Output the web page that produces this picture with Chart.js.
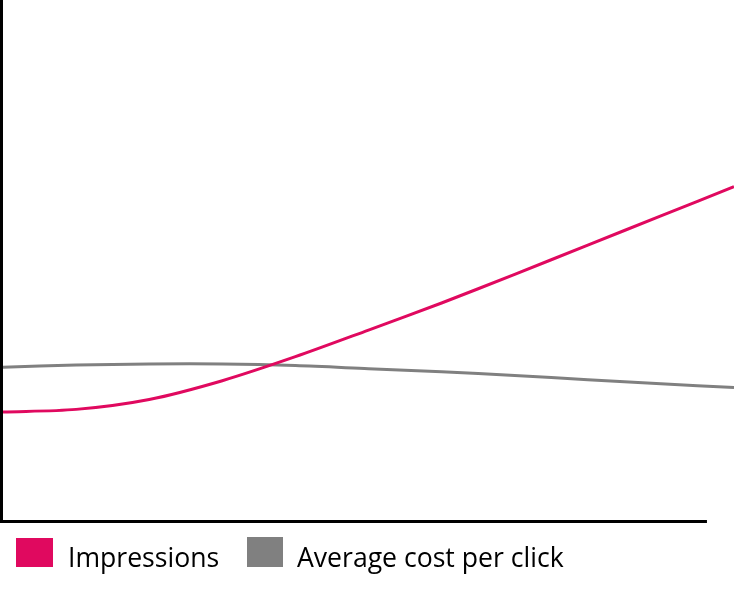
<!DOCTYPE html>
<html>
<head>
<meta charset="utf-8">
<script src="https://cdn.jsdelivr.net/npm/chart.js@4/dist/chart.umd.min.js"></script>
<style>
  html, body { margin: 0; padding: 0; background: #fff; }
  #wrap { position: relative; width: 734px; height: 597px; }
  #legend { position: absolute; left: 0; top: 0; width: 734px; height: 597px; pointer-events: none;
            font-family: 'Open Sans', sans-serif; font-size: 26.6px; color: #000; }
  .lg-box { position: absolute; }
  .lg-text { position: absolute; line-height: 30px; white-space: nowrap; }
</style>
</head>
<body>
<div id="wrap">
  <canvas id="chart"></canvas>
  <div id="legend"></div>
</div>
<script>
'use strict';

// ── Data (arbitrary units 0..100) ──────────────────────────────────────────
const xLabels     = ['0', '1', '2', '3', '4', '5', '6', '7', '8', '9', '10'];
const impressions = [21.0, 21.5, 23.4, 27.0, 31.6, 36.7, 41.9, 47.4, 53.0, 58.6, 64.2];
const avgCpc      = [29.6, 30.0, 30.2, 30.2, 29.9, 29.3, 28.7, 28.0, 27.2, 26.4, 25.7];

const PINK = '#E0095F';
const GREY = '#808080';

// axis line in the picture stops short of the right edge
const X_AXIS_END = 0.963;

// ── Axis lines drawn from the scales ───────────────────────────────────────
const axisLines = {
  id: 'axisLines',
  beforeDatasetsDraw(chart) {
    const { ctx, chartArea, scales } = chart;
    const y0 = scales.y.getPixelForValue(0);
    ctx.save();
    ctx.strokeStyle = '#000';
    ctx.lineWidth = 3;
    ctx.beginPath();
    ctx.moveTo(1.5, 0);
    ctx.lineTo(1.5, y0 + 1.5);
    ctx.moveTo(0, y0);
    ctx.lineTo(chartArea.left + (chartArea.right - chartArea.left) * X_AXIS_END, y0);
    ctx.stroke();
    ctx.restore();
  }
};

const chart = new Chart(document.getElementById('chart'), {
  type: 'line',
  data: {
    labels: xLabels,
    datasets: [
      { label: 'Impressions', data: impressions, borderColor: PINK, backgroundColor: PINK },
      { label: 'Average cost per click', data: avgCpc, borderColor: GREY, backgroundColor: GREY },
    ],
  },
  options: {
    responsive: true,
    maintainAspectRatio: false,
    animation: false,
    layout: { padding: { left: 3, right: 0, top: 0, bottom: 75.5 } },
    elements: {
      line: { borderWidth: 3, tension: 0.3 },
      point: { radius: 0 },
    },
    plugins: { legend: { display: false }, tooltip: { enabled: false } },
    scales: {
      x: { display: false },
      y: { display: false, min: 0, max: 100 },
    },
  },
  plugins: [axisLines],
});

// ── HTML legend built from the datasets ────────────────────────────────────
const legendPos = [
  { box: [16, 538, 37, 29], text: [68, 542] },
  { box: [247, 537, 36, 30], text: [297, 542] },
];
const legendEl = document.getElementById('legend');
chart.data.datasets.forEach((ds, i) => {
  const p = legendPos[i];
  const box = document.createElement('div');
  box.className = 'lg-box';
  box.style.cssText = `left:${p.box[0]}px;top:${p.box[1]}px;width:${p.box[2]}px;height:${p.box[3]}px;background:${ds.backgroundColor}`;
  const txt = document.createElement('div');
  txt.className = 'lg-text';
  txt.style.left = p.text[0] + 'px';
  txt.style.top = p.text[1] + 'px';
  txt.textContent = ds.label;
  legendEl.appendChild(box);
  legendEl.appendChild(txt);
});
</script>
</body>
</html>
